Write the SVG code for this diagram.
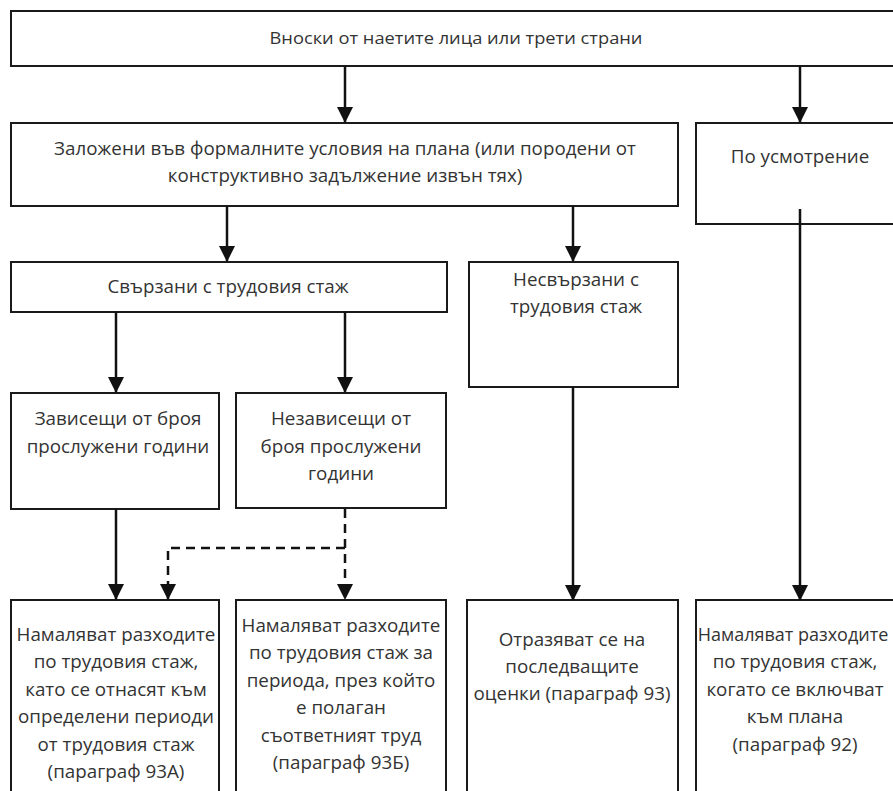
<svg xmlns="http://www.w3.org/2000/svg" width="893" height="791" viewBox="0 0 893 791">
<defs>
<style>
.box{fill:#fff;stroke:#1a1a1a;stroke-width:2}
.t{font-family:"Open Sans","Liberation Sans",sans-serif;font-size:18.8px;fill:#333;text-anchor:middle}
.tt{font-family:"Open Sans","Liberation Sans",sans-serif;font-size:17px;fill:#333;text-anchor:middle}
.c{fill:none;stroke:#111;stroke-width:2.5}
.d{fill:none;stroke:#111;stroke-width:2.5;stroke-dasharray:9 6}
</style>
<marker id="ah" markerUnits="userSpaceOnUse" markerWidth="16" markerHeight="16" viewBox="0 0 16 16" refX="15" refY="8" orient="auto">
<path d="M0,0 L16,8 L0,16 Z" fill="#111"/>
</marker>
</defs>
<rect width="893" height="791" fill="#fff"/>
<g id="n-top"><rect class="box" x="11" y="11" width="900" height="55"/><text class="tt" x="456" y="44" textLength="373" lengthAdjust="spacingAndGlyphs">Вноски от наетите лица или трети страни</text></g>
<g id="n-formal"><rect class="box" x="11" y="123" width="667" height="83"/><text class="t" x="345" y="155">Заложени във формалните условия на плана (или породени от</text><text class="t" x="345" y="182">конструктивно задължение извън тях)</text></g>
<g id="n-discr"><rect class="box" x="696" y="123" width="220" height="101"/><text class="t" x="800" y="163">По усмотрение</text></g>
<g id="n-svurzani"><rect class="box" x="11" y="262" width="436" height="50"/><text class="t" x="228" y="293">Свързани с трудовия стаж</text></g>
<g id="n-nesvurzani"><rect class="box" x="469" y="262" width="209" height="125"/><text class="t" x="576" y="286">Несвързани с</text><text class="t" x="576" y="313">трудовия стаж</text></g>
<g id="n-zavisesti"><rect class="box" x="11" y="393" width="208" height="116"/><text class="t" x="118" y="425">Зависещи от броя</text><text class="t" x="118" y="453">прослужени години</text></g>
<g id="n-nezavisesti"><rect class="box" x="236" y="393" width="210" height="115"/><text class="t" x="341" y="425">Независещи от</text><text class="t" x="341" y="453">броя прослужени</text><text class="t" x="341" y="480">години</text></g>
<g id="n-93a"><rect class="box" x="11" y="600" width="208" height="210"/><text class="t" x="116" y="641">Намаляват разходите</text><text class="t" x="116" y="668">по трудовия стаж,</text><text class="t" x="116" y="696">като се отнасят към</text><text class="t" x="116" y="723">определени периоди</text><text class="t" x="116" y="751">от трудовия стаж</text><text class="t" x="116" y="778">(параграф 93А)</text></g>
<g id="n-93b"><rect class="box" x="236" y="600" width="210" height="210"/><text class="t" x="341" y="632">Намаляват разходите</text><text class="t" x="341" y="659">по трудовия стаж за</text><text class="t" x="341" y="687">периода, през който</text><text class="t" x="341" y="714">е полаган</text><text class="t" x="341" y="742">съответният труд</text><text class="t" x="341" y="769">(параграф 93Б)</text></g>
<g id="n-93"><rect class="box" x="467" y="600" width="211" height="210"/><text class="t" x="572" y="646">Отразяват се на</text><text class="t" x="572" y="673">последващите</text><text class="t" x="572" y="700">оценки (параграф 93)</text></g>
<g id="n-92"><rect class="box" x="696" y="600" width="220" height="210"/><text class="t" x="793" y="641" style="font-size:18px">Намаляват разходите</text><text class="t" x="795" y="668">по трудовия стаж,</text><text class="t" x="795" y="696">когато се включват</text><text class="t" x="795" y="723">към плана</text><text class="t" x="795" y="751">(параграф 92)</text></g>
<g id="connectors">
<path class="c" d="M345,66 V122" marker-end="url(#ah)"/>
<path class="c" d="M800,66 V122" marker-end="url(#ah)"/>
<path class="c" d="M227,206 V261" marker-end="url(#ah)"/>
<path class="c" d="M573,206 V261" marker-end="url(#ah)"/>
<path class="c" d="M116,312 V392" marker-end="url(#ah)"/>
<path class="c" d="M345,312 V392" marker-end="url(#ah)"/>
<path class="c" d="M116,509 V599" marker-end="url(#ah)"/>
<path class="d" d="M345,509 V599" marker-end="url(#ah)"/>
<path class="d" d="M345,548 H168 V599" marker-end="url(#ah)"/>
<path class="c" d="M573,387 V600" marker-end="url(#ah)"/>
<path class="c" d="M800,209 V600" marker-end="url(#ah)"/>
</g>
</svg>
